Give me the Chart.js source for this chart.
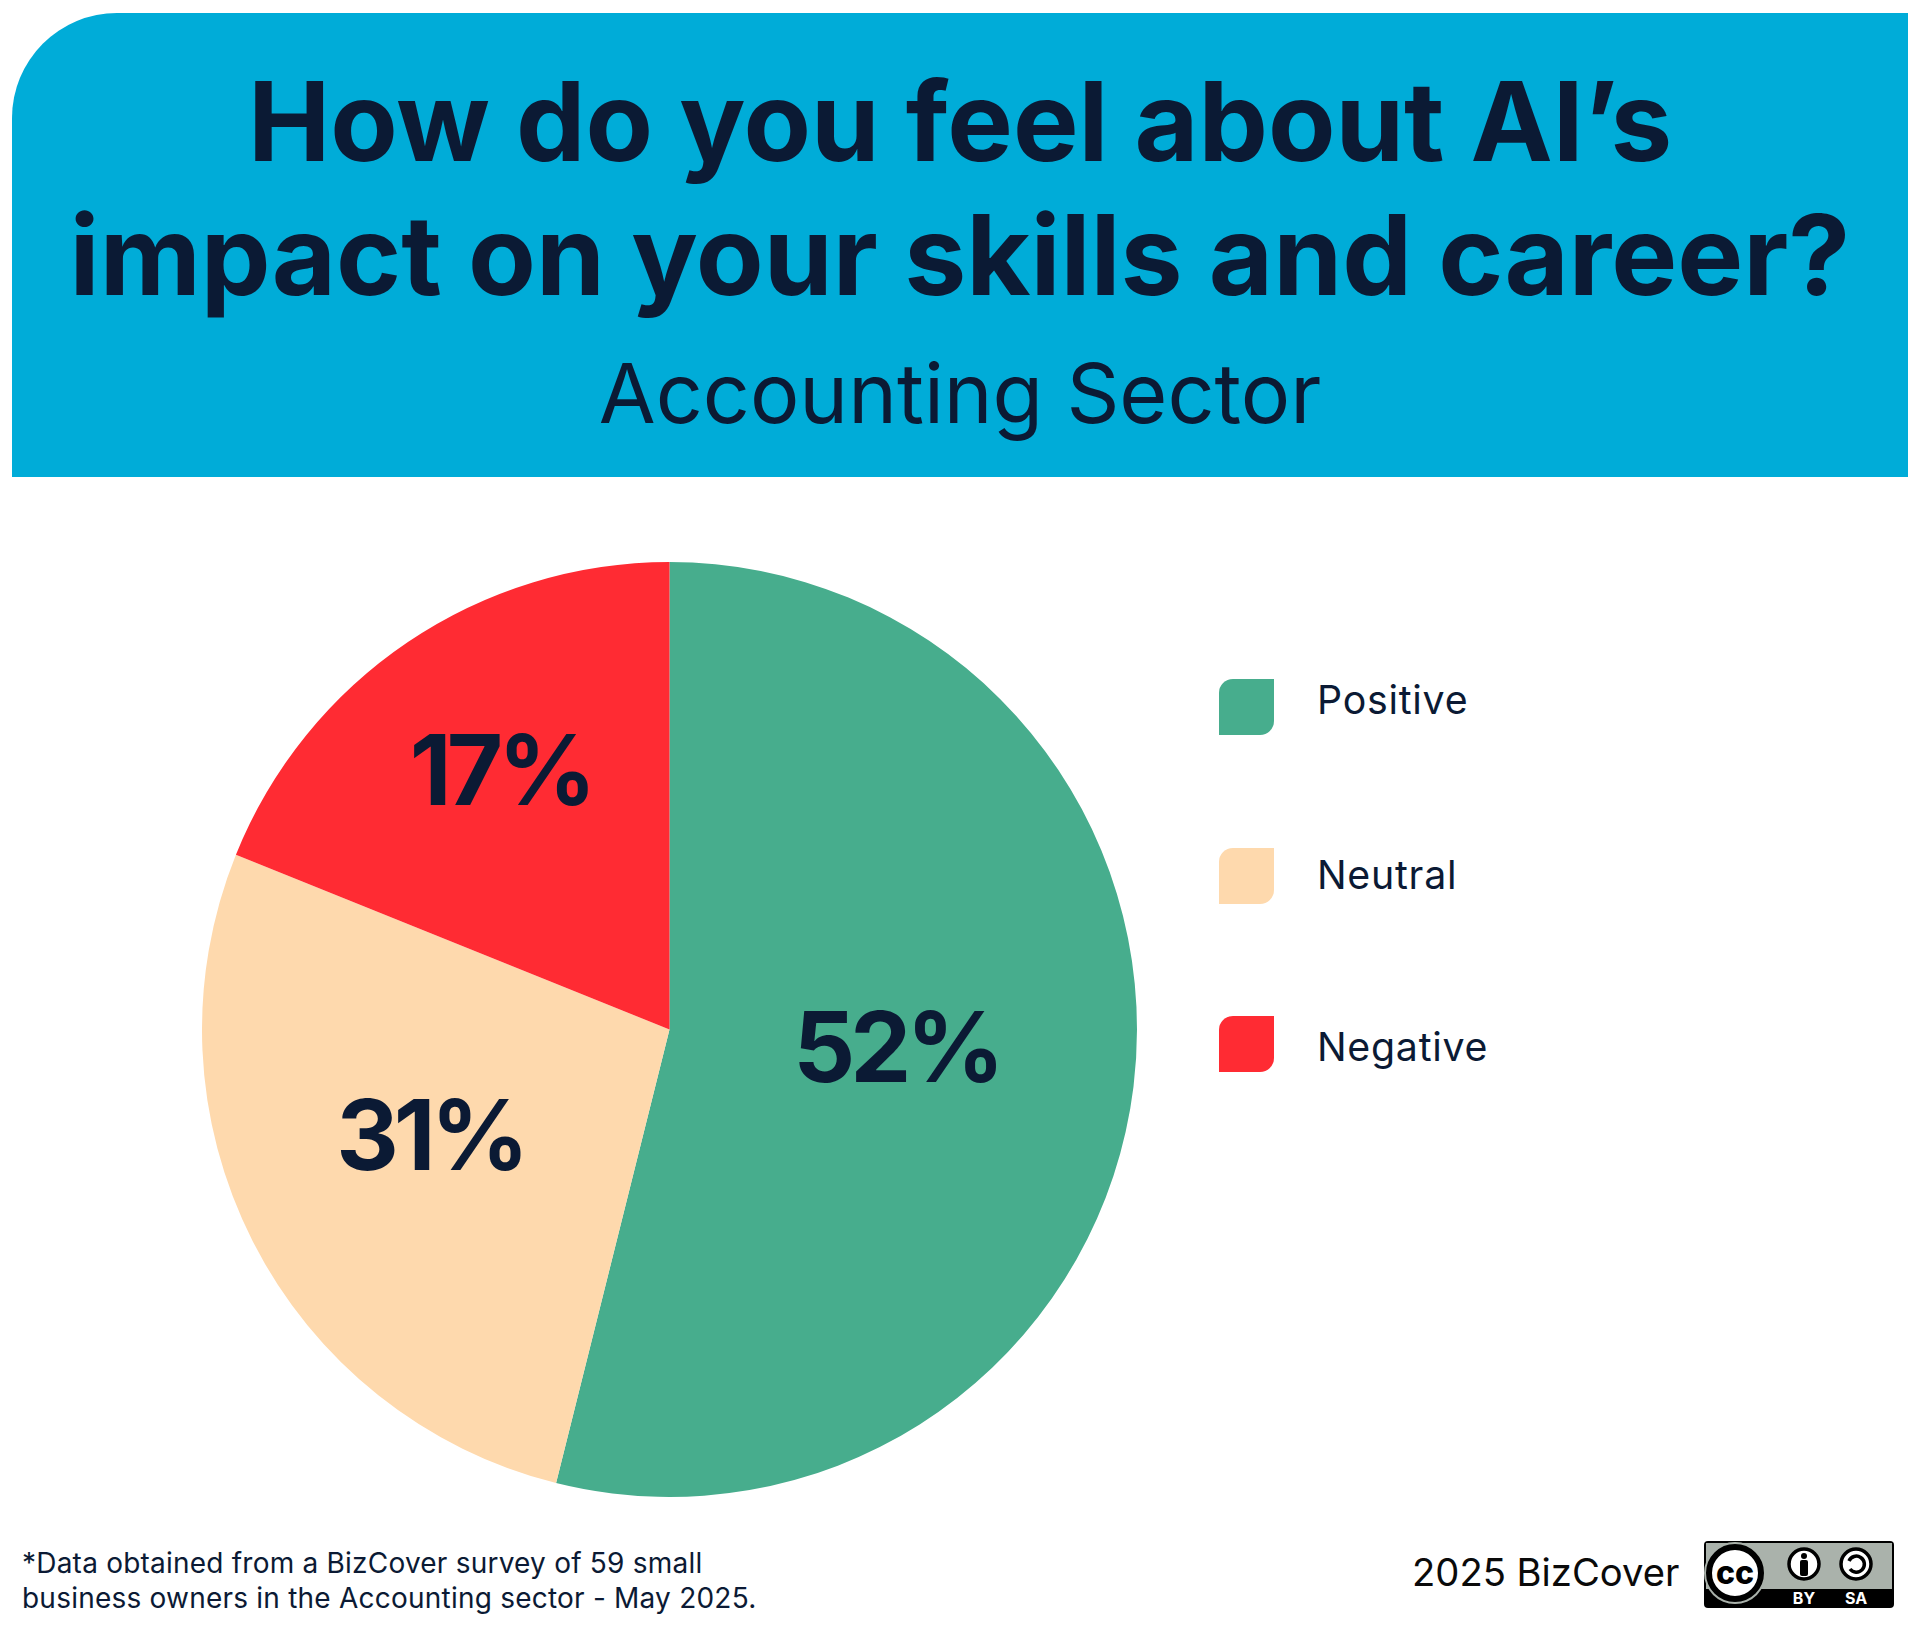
<!DOCTYPE html>
<html>
<head>
<meta charset="utf-8">
<title>AI impact - Accounting Sector</title>
<script src="https://cdn.jsdelivr.net/npm/chart.js@4/dist/chart.umd.min.js"></script>
<style>
  html, body { margin: 0; padding: 0; background: #fff; }
  body { width: 1920px; height: 1632px; position: relative; overflow: hidden; font-family: Inter, sans-serif; color: #0b1a34; }
  .header { position: absolute; left: 12px; top: 13px; width: 1896px; height: 464px; background: #00acd8; border-top-left-radius: 105px; }
  .title { position: absolute; left: 0; width: 1920px; text-align: center; font-weight: 700; line-height: 134px; white-space: nowrap; }
  .subtitle { position: absolute; left: 0; width: 1920px; top: 348px; text-align: center; font-size: 82.5px; line-height: 90px; }
  #pie { position: absolute; left: 202px; top: 562px; }
  .swatch { position: absolute; left: 1219px; width: 55px; height: 56px; border-radius: 14px 0 14px 0; }
  .legend-text { position: absolute; left: 1317px; font-size: 39.3px; letter-spacing: 0.75px; line-height: 46px; white-space: nowrap; }
  .note { position: absolute; left: 22px; top: 1546px; font-size: 28px; letter-spacing: 0.22px; line-height: 34.5px; white-space: nowrap; }
  .credit { position: absolute; left: 1412px; top: 1549px; font-size: 38.2px; line-height: 46px; color: #0a0a0a; white-space: nowrap; }
  #badge { position: absolute; left: 1704px; top: 1541px; }
</style>
</head>
<body>
<div class="header"></div>
<div class="title" style="top:54px;font-size:110.2px">How do you feel about AI’s</div>
<div class="title" style="top:188px;font-size:110.8px">impact on your skills and career?</div>
<div class="subtitle">Accounting Sector</div>
<canvas id="pie" width="935" height="935"></canvas>
<div id="legend"></div>
<div class="note">*Data obtained from a BizCover survey of 59 small<br>business owners in the Accounting sector - May 2025.</div>
<div class="credit">2025 BizCover</div>
<svg id="badge" width="190" height="67" viewBox="0 0 190 67">
  <rect x="0" y="0" width="190" height="67" rx="4" fill="#000"/>
  <rect x="2" y="2" width="186" height="46" fill="#aab2ab"/>
  <circle cx="31" cy="32" r="31" fill="#aab2ab"/>
  <circle cx="31" cy="32" r="26" fill="#fff" stroke="#000" stroke-width="6"/>
  <text x="31" y="43" text-anchor="middle" font-family="Inter" font-weight="800" font-size="32" fill="#000">cc</text>
  <circle cx="100" cy="23" r="15" fill="#fff" stroke="#000" stroke-width="3.5"/>
  <circle cx="100" cy="15" r="3" fill="#000"/>
  <rect x="96" y="19" width="8" height="16" rx="2" fill="#000"/>
  <circle cx="152" cy="23" r="15" fill="#fff" stroke="#000" stroke-width="3.5"/>
  <path d="M145 20 A8 8 0 1 1 146 28" fill="none" stroke="#000" stroke-width="3.5"/>
  <text x="100" y="63" text-anchor="middle" font-family="Inter" font-weight="700" font-size="16" fill="#fff">BY</text>
  <text x="152" y="63" text-anchor="middle" font-family="Inter" font-weight="700" font-size="16" fill="#fff">SA</text>
</svg>
<script>
// the drawn slices are not the same size as the printed percentages, so both are kept
const categories = ['Positive', 'Neutral', 'Negative'];
const sliceValues = [53.9, 27.2, 18.9];
const printedLabels = ['52%', '31%', '17%'];
const sliceColors = ['#47ad8d', '#fed9ad', '#ff2b33'];

// label offset from the slice's middle point, pixels
const labelOffsets = [[-5, -5], [-31, 5], [-38, -60]];
const legendTops = [679, 848, 1016];
const legendTextTops = [677, 852, 1024];

const legend = document.getElementById('legend');
categories.forEach((name, i) => {
    const box = document.createElement('div');
    box.className = 'swatch';
    box.style.top = legendTops[i] + 'px';
    box.style.background = sliceColors[i];
    legend.appendChild(box);

    const text = document.createElement('div');
    text.className = 'legend-text';
    text.style.top = legendTextTops[i] + 'px';
    text.textContent = name;
    legend.appendChild(text);
});

const sliceLabels = {
    id: 'sliceLabels',
    afterDatasetsDraw(chart) {
        const ctx = chart.ctx;
        const arcs = chart.getDatasetMeta(0).data;
        ctx.save();
        ctx.font = '700 97px Inter';
        ctx.letterSpacing = '-5px';
        ctx.fillStyle = '#0b1a34';
        ctx.textAlign = 'center';
        ctx.textBaseline = 'middle';
        arcs.forEach((arc, i) => {
            const pos = arc.tooltipPosition();
            ctx.fillText(printedLabels[i], pos.x + labelOffsets[i][0], pos.y + labelOffsets[i][1]);
        });
        ctx.restore();
    }
};

new Chart(document.getElementById('pie'), {
    type: 'pie',
    data: {
        labels: categories,
        datasets: [{
            data: sliceValues,
            backgroundColor: sliceColors,
            borderWidth: 0
        }]
    },
    options: {
        responsive: false,
        animation: false,
        devicePixelRatio: 1,
        plugins: {
            legend: { display: false },
            tooltip: { enabled: false }
        }
    },
    plugins: [sliceLabels]
});
</script>
</body>
</html>
